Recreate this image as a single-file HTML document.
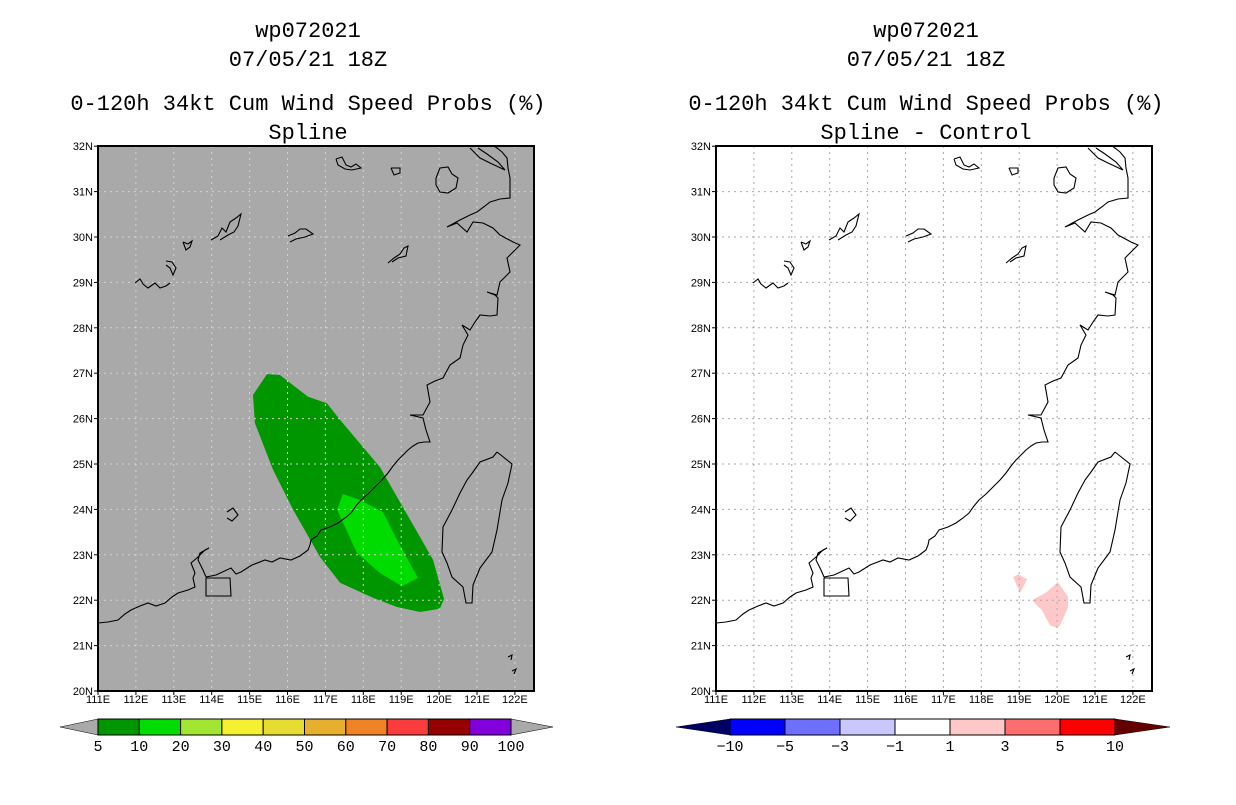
<!DOCTYPE html>
<html><head><meta charset="utf-8">
<style>
html,body{margin:0;padding:0;background:#fff;}
svg text{font-family:"Liberation Mono","DejaVu Sans Mono",monospace;fill:#000;}
.t{font-size:22px;}
.ax{font-size:11px;font-family:"Liberation Sans",sans-serif !important;}
.cb{font-size:15px;}
</style></head>
<body>
<svg id="s" width="1236" height="800" viewBox="0 0 1236 800" xmlns="http://www.w3.org/2000/svg">
  <g>
    <text class="t" x="308" y="37" text-anchor="middle">wp072021</text>
    <text class="t" x="308" y="66" text-anchor="middle">07/05/21 18Z</text>
    <text class="t" x="308" y="110" text-anchor="middle">0-120h 34kt Cum Wind Speed Probs (%)</text>
    <text class="t" x="308" y="139" text-anchor="middle">Spline</text>
  </g>
  <g>
    <text class="t" x="926" y="37" text-anchor="middle">wp072021</text>
    <text class="t" x="926" y="66" text-anchor="middle">07/05/21 18Z</text>
    <text class="t" x="926" y="110" text-anchor="middle">0-120h 34kt Cum Wind Speed Probs (%)</text>
    <text class="t" x="926" y="139" text-anchor="middle">Spline - Control</text>
  </g>
  <defs>
    <clipPath id="clipL"><rect x="98" y="146" width="436" height="545"/></clipPath>
    <clipPath id="clipR"><rect x="716" y="146" width="436" height="545"/></clipPath>
  </defs>
  <g id="left"></g>
  <g id="right"></g>
  <g id="cbL"></g>
  <g id="cbR"></g>
</svg>
<script>
// ---- data ----
const lonTicks = [111,112,113,114,115,116,117,118,119,120,121,122];
const latTicks = [20,21,22,23,24,25,26,27,28,29,30,31,32];
const prob5Lon = [115.46,115.80,116.54,117.04,117.39,118.44,119.50,119.84,120.13,120.02,119.50,118.89,118.26,117.39,116.86,116.15,115.62,115.14,115.09];
const prob5Lat = [26.98,26.96,26.48,26.34,25.97,24.93,23.39,22.89,22.03,21.81,21.74,21.85,22.05,22.38,22.95,23.99,24.87,25.90,26.52];
const prob10Lon = [117.46,117.91,118.52,118.89,119.44,119.02,118.44,117.83,117.31];
const prob10Lat = [24.34,24.21,23.94,23.33,22.49,22.31,22.60,23.04,23.99];
const diffALon = [118.84,118.97,119.21,119.02];
const diffALat = [22.51,22.57,22.46,22.16];
const diffBLon = [119.34,119.73,120.02,120.29,120.29,120.08,120.00,119.81,119.60];
const diffBLat = [22.00,22.18,22.40,22.07,21.85,21.45,21.39,21.45,21.78];
const cbLeftLabels = ["5","10","20","30","40","50","60","70","80","90","100"];
const cbLeftColors = ["#009600","#00dc00","#a0e632","#f5f032","#e6dc32","#e6af2d","#f08228","#fa3c3c","#960000","#8200dc"];
const cbRightLabels = ["-10","-5","-3","-1","1","3","5","10"];
const cbRightColors = ["#0000ff","#6e6eff","#c8c8ff","#ffffff","#ffc8c8","#ff6e6e","#ff0000"];

// ---- axes ----
const NS='http://www.w3.org/2000/svg';
const PX=37.9, PY=45.4;
function xL(lon,off){return off+98+(lon-111)*PX;}
function yL(lat){return 691-(lat-20)*PY;}
function mk(tag,attrs,parent){const e=document.createElementNS(NS,tag);for(const k in attrs)e.setAttribute(k,attrs[k]);parent.appendChild(e);return e;}
function poly(lons,lats,off){return lons.map((l,i)=>xL(l,off).toFixed(1)+','+yL(lats[i]).toFixed(1)).join(' ');}

// coastline geometry (pixels relative to left panel origin 98,146)
const coast=[[98,623],[108,622],[118,620],[125,614],[131,610],[140,606],[148,603],[156,606],[165,603],[172,597],[178,593],[188,590],[195,587],[193,578],[195,573],[191,563],[198,557],[205,550],[209,548],[200,553],[198,560],[203,570],[206,577],[216,575],[231,568],[236,574],[241,572],[252,565],[265,560],[272,562],[280,558],[291,560],[300,556],[308,550],[310,545],[311,540],[317,536],[321,530],[330,527],[338,523],[345,518],[351,513],[356,506],[361,500],[368,494],[375,487],[382,480],[388,473],[393,466],[398,460],[403,455],[408,450],[413,446],[418,443],[424,442],[430,442],[426,430],[423,418],[410,415],[423,415],[430,402],[427,385],[435,381],[443,378],[450,365],[460,358],[463,345],[468,335],[462,325],[470,330],[475,322],[480,315],[490,316],[497,315],[498,298],[495,295],[487,292],[497,295],[500,282],[510,272],[507,258],[513,252],[520,245],[513,242],[500,235],[493,228],[483,223],[473,222],[467,232],[457,223],[447,227],[460,220],[470,215],[477,212],[485,206],[490,202],[500,199],[510,198],[510,185],[510,178],[508,168],[507,158],[502,152],[497,148],[494,146]];
const taiwan=[[497,452],[512,464],[508,483],[502,500],[497,530],[492,552],[480,568],[473,585],[472,603],[466,603],[463,587],[452,577],[447,563],[442,552],[443,527],[452,510],[460,493],[467,480],[473,472],[480,462],[493,457],[497,452]];
const extras=[
 [[135,283],[140,279],[143,284],[148,288],[155,283],[160,288],[166,286],[170,283]],
 [[166,261],[172,262],[176,268],[173,275],[170,268],[166,265]],
 [[183,242],[188,244],[192,241],[190,247],[186,250],[183,242]],
 [[211,240],[218,236],[222,228],[226,232],[230,222],[236,218],[241,214],[238,226],[234,232],[228,235],[220,240]],
 [[288,236],[295,233],[300,229],[306,229],[313,234],[305,237],[296,239],[290,242]],
 [[388,263],[394,258],[400,254],[404,248],[408,246],[406,256],[398,258],[392,262]],
 [[336,159],[342,157],[346,165],[351,167],[356,164],[361,168],[352,170],[345,169],[338,165],[336,159]],
 [[391,168],[400,168],[400,173],[394,175],[391,168]],
 [[436,178],[440,168],[448,167],[452,174],[458,178],[456,188],[448,193],[440,192],[436,185],[436,178]],
 [[470,148],[480,158],[490,163],[505,170],[498,162],[487,154],[478,148]],
 [[227,512],[233,508],[238,515],[232,521],[227,518]],
 [[206,578],[230,578],[231,596],[206,596],[206,578]],
 [[551,532],[555,530],[553,534]],
 [[508,657],[512,655],[511,660]],
 [[512,671],[516,669],[514,674]]
];
function ptsStr(a,off){return a.map(p=>(p[0]+off)+','+p[1]).join(' ');}

function panel(g,off,bg,gridColor){
  const clip = off? 'url(#clipR)':'url(#clipL)';
  const bgR=mk('rect',{x:98+off,y:146,width:436,height:545,fill:bg},g);
  
  
  const shapes=mk('g',{'clip-path':clip},g);
  
  
  if(!off){
    const p1=mk('polygon',{points:poly(prob5Lon,prob5Lat,off),fill:'#009600'},shapes);
    
    
    const p2=mk('polygon',{points:poly(prob10Lon,prob10Lat,off),fill:'#00dc00'},shapes);
    
    
  } else {
    const p1=mk('polygon',{points:poly(diffALon,diffALat,off),fill:'#ffc8c8'},shapes);
    
    
    const p2=mk('polygon',{points:poly(diffBLon,diffBLat,off),fill:'#ffc8c8'},shapes);
    
    
  }
  const grid=mk('g',{stroke:gridColor,'stroke-width':1,'stroke-dasharray':'2,4'},g);
  
  
  lonTicks.slice(1).forEach(l=>{mk('line',{x1:xL(l,off),x2:xL(l,off),y1:146,y2:691},grid);});
  latTicks.slice(1,-1).forEach(l=>{mk('line',{x1:98+off,x2:534+off,y1:yL(l),y2:yL(l)},grid);});
  const cg=mk('g',{fill:'none',stroke:'#000','stroke-width':1.1,'clip-path':clip},g);
  
  
  mk('polyline',{points:ptsStr(coast,off)},cg);
  mk('polyline',{points:ptsStr(taiwan,off)},cg);
  extras.forEach(e=>mk('polyline',{points:ptsStr(e,off)},cg));
  const fr=mk('rect',{x:98+off,y:146,width:436,height:545,fill:'none',stroke:'#000','stroke-width':2},g);
  
  
  const xa=mk('g',{},g);
  
  
  lonTicks.forEach(l=>{
    mk('line',{x1:xL(l,off),x2:xL(l,off),y1:691,y2:695,stroke:'#000'},xa);
    const t=mk('text',{x:xL(l,off),y:703,'text-anchor':'middle',class:'ax'},xa);
    t.textContent=l+'E';
  });
  const ya=mk('g',{},g);
  
  
  latTicks.forEach(l=>{
    mk('line',{x1:94+off,x2:98+off,y1:yL(l),y2:yL(l),stroke:'#000'},ya);
    const t=mk('text',{x:93+off,y:yL(l)+4,'text-anchor':'end',class:'ax'},ya);
    t.textContent=l+'N';
  });
}
panel(document.getElementById('left'),0,'#a9a9a9','#d2d2d2');
panel(document.getElementById('right'),618,'#ffffff','#a9a9a9');

function colorbar(g,x0,x1,colors,labels,lc,rc,lt,rt){
  const w=(x1-x0)/colors.length, y0=719, h=16;
  const l=mk('polygon',{points:`${lt},727 ${x0},${y0} ${x0},${y0+h}`,fill:lc,stroke:'#000','stroke-width':0.5},g);
  
  
  const r=mk('polygon',{points:`${rt},727 ${x1},${y0} ${x1},${y0+h}`,fill:rc,stroke:'#000','stroke-width':0.5},g);
  
  
  colors.forEach((c,i)=>{
    const b=mk('rect',{x:x0+i*w,y:y0,width:w,height:h,fill:c,stroke:'#000','stroke-width':1},g);
    
    
  });
  labels.forEach((s,i)=>{
    const t=mk('text',{x:x0+i*w,y:751,'text-anchor':'middle',class:'cb'},g);
    
    
    t.textContent=s.replace('-','\u2212');
  });
}
colorbar(document.getElementById('cbL'),98,511,cbLeftColors,cbLeftLabels,'#a9a9a9','#a9a9a9',60,553);
colorbar(document.getElementById('cbR'),730,1115,cbRightColors,cbRightLabels,'#000064','#640000',676,1170);
</script>
</body></html>
